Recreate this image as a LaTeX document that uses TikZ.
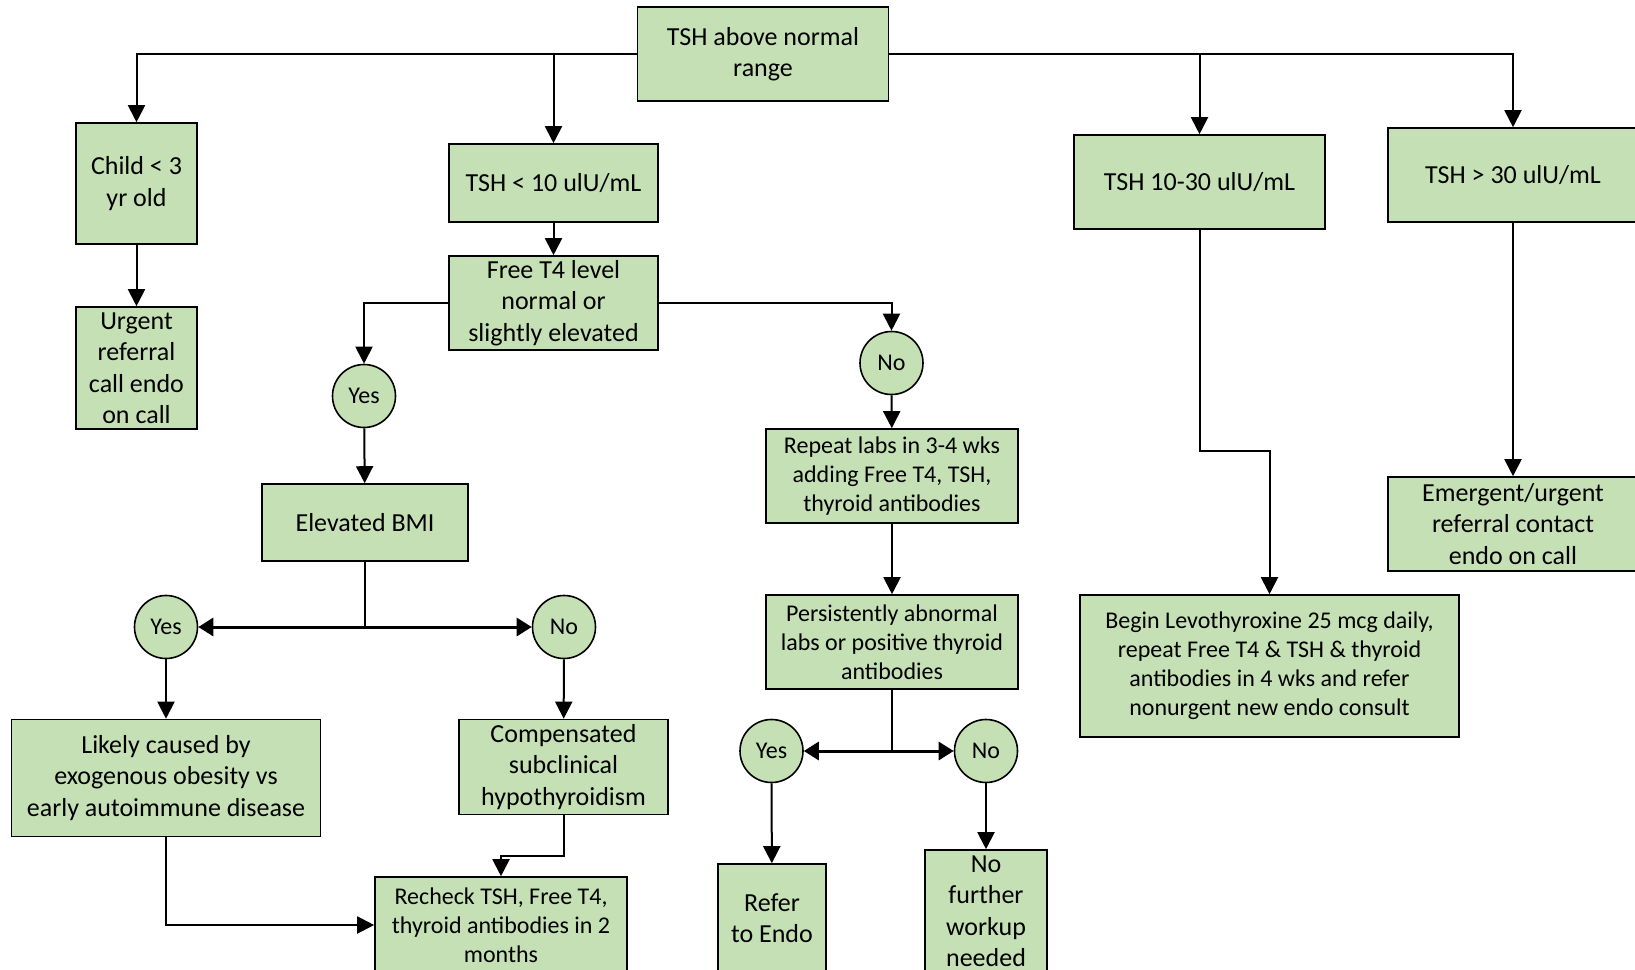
\documentclass[tikz,border=0pt]{standalone}
\usepackage{fontspec}
\setmainfont{Carlito}
\usetikzlibrary{arrows.meta}
\definecolor{boxgreen}{RGB}{197,224,180}

\begin{document}
\begin{tikzpicture}[x=0.5pt,y=-0.5pt,
    box/.style={draw,fill=boxgreen,line width=0.8pt,align=center,inner sep=0pt,
      font=\fontsize{13}{15.75}\selectfont},
    smallbox/.style={box,font=\fontsize{12}{14.5}\selectfont},
    answer/.style={draw,fill=boxgreen,circle,line width=0.8pt,minimum size=31.5pt,
      inner sep=0pt,font=\fontsize{12}{14.5}\selectfont},
    flow/.style={line width=1pt,-{Triangle[length=8.5pt,width=8.5pt]}},
    split/.style={line width=1.5pt,-{Triangle[length=7.5pt,width=9pt]}}]
  \useasboundingbox (0,0) rectangle (1635,970);

  % top level
  \node[box,minimum width=125.5pt,minimum height=47pt] (top) at (763,54) {TSH above normal\\range};
  \node[box,minimum width=60.5pt,minimum height=60.5pt] (child) at (136.5,183.5) {Child < 3\\yr old};
  \node[box,minimum width=60.5pt,minimum height=61pt] (urgent) at (136.5,368) {Urgent\\referral\\call endo\\on call};
  \node[box,minimum width=104.5pt,minimum height=39pt] (tshlow) at (553.5,183) {TSH < 10 ulU/mL};
  \node[box,minimum width=125.5pt,minimum height=47pt] (tshmid) at (1199.5,182) {TSH 10-30 ulU/mL};
  \node[box,minimum width=125pt,minimum height=47pt] (tshhigh) at (1513,175) {TSH > 30 ulU/mL};

  % TSH < 10 branch
  \node[box,minimum width=104.5pt,minimum height=47pt] (ft4) at (553.5,303) {Free T4 level\\normal or\\slightly elevated};
  \node[answer] (yesA) at (364,396) {Yes};
  \node[answer] (noA) at (891.5,363) {No};
  \node[box,minimum width=103pt,minimum height=38.5pt] (bmi) at (365,522.5) {Elevated BMI};
  \node[answer] (yesB) at (166,627) {Yes};
  \node[answer] (noB) at (564,627) {No};
  \node[box,minimum width=154.5pt,minimum height=58.5pt] (likely) at (166,778) {Likely caused by\\exogenous obesity vs\\early autoimmune disease};
  \node[box,minimum width=104.5pt,minimum height=47.5pt] (comp) at (563.5,767) {Compensated\\subclinical\\hypothyroidism};
  \node[smallbox,minimum width=126pt,minimum height=48pt] (recheck) at (501,925) {Recheck TSH, Free T4,\\thyroid antibodies in 2\\months};
  \node[smallbox,minimum width=126pt,minimum height=47pt] (repeat) at (892,476) {Repeat labs in 3-4 wks\\adding Free T4, TSH,\\thyroid antibodies};
  \node[smallbox,minimum width=126pt,minimum height=47pt] (persist) at (892,642) {Persistently abnormal\\labs or positive thyroid\\antibodies};
  \node[answer] (yesC) at (771.5,751) {Yes};
  \node[answer] (noC) at (986,751) {No};
  \node[box,minimum width=54pt,minimum height=54pt] (refer) at (772,918) {Refer\\to Endo};
  \node[box,minimum width=61pt,minimum height=61pt] (nofurther) at (986,911) {No\\further\\workup\\needed};

  % higher TSH
  \node[smallbox,minimum width=189.5pt,minimum height=71pt] (levo) at (1269.5,666) {Begin Levothyroxine 25 mcg daily,\\repeat Free T4 \& TSH \& thyroid\\antibodies in 4 wks and refer\\nonurgent new endo consult};
  \node[box,minimum width=125pt,minimum height=47pt] (emergent) at (1513,524) {Emergent/urgent\\referral contact\\endo on call};

  \coordinate (bmisplit) at (bmi.south |- yesB.east);
  \coordinate (persplit) at (persist.south |- yesC.east);

  \draw[flow] (top.west) -| (child.north);
  \draw[flow] (tshlow.north |- top.west) -- (tshlow.north);
  \draw[flow] (top.east) -| (tshhigh.north);
  \draw[flow] (tshmid.north |- top.east) -- (tshmid.north);
  \draw[flow] (child) -- (urgent);
  \draw[flow] (tshlow) -- (ft4);
  \draw[flow] (ft4.west) -| (yesA.north);
  \draw[flow] (ft4.east) -| (noA.north);
  \draw[flow] (yesA) -- (bmi);
  \draw[line width=1pt] (bmi.south) -- (bmisplit);
  \draw[split] (bmisplit) -- (yesB);
  \draw[split] (bmisplit) -- (noB);
  \draw[flow] (yesB) -- (likely);
  \draw[flow] (noB) -- (comp);
  \draw[flow] (comp.south) -- ++(0,41) -| (recheck.north);
  \draw[flow] (likely.south) |- (recheck.west);
  \draw[flow] (noA) -- (repeat);
  \draw[flow] (repeat) -- (persist);
  \draw[line width=1pt] (persist.south) -- (persplit);
  \draw[split] (persplit) -- (yesC);
  \draw[split] (persplit) -- (noC);
  \draw[flow] (yesC) -- (refer);
  \draw[flow] (noC) -- (nofurther);
  \draw[flow] (tshmid.south) -- ++(0,221) -| (levo.north);
  \draw[flow] (tshhigh) -- (emergent);
\end{tikzpicture}
\end{document}
